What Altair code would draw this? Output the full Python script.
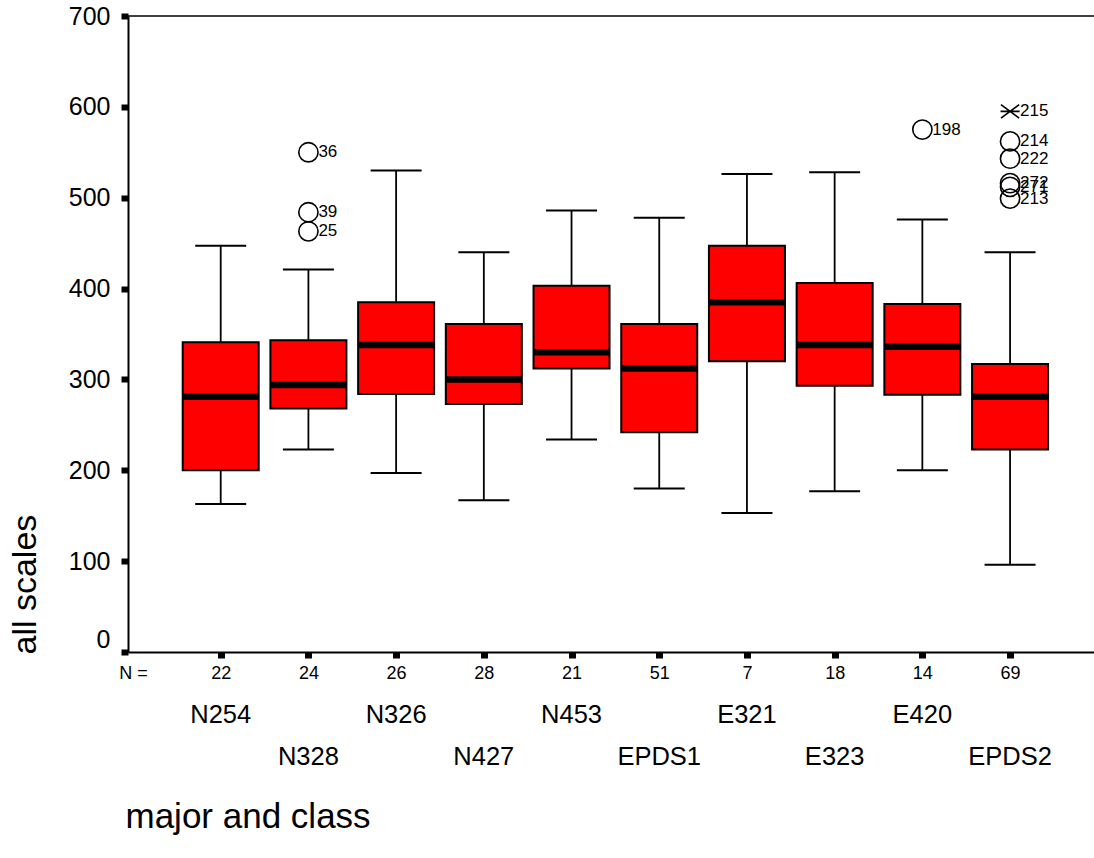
import altair as alt
import pandas as pd

# ---- data ----
categories = ["N254", "N328", "N326", "N427", "N453", "EPDS1", "E321", "E323", "E420", "EPDS2"]
n_counts = [22, 24, 26, 28, 21, 51, 7, 18, 14, 69]
whisker_low = [163, 223, 197, 167, 234, 180, 153, 177, 200, 96]
q1 = [200, 268, 284, 273, 312, 242, 320, 293, 283, 223]
median = [281, 294, 338, 300, 330, 312, 385, 338, 336, 281]
q3 = [341, 343, 385, 361, 403, 361, 447, 406, 383, 317]
whisker_high = [447, 421, 530, 440, 486, 478, 526, 528, 476, 440]

out_group = [2, 2, 2, 9, 10, 10, 10, 10, 10, 10]
out_value = [550, 484, 463, 575, 595, 562, 543, 516, 512, 499]
out_label = ["36", "39", "25", "198", "215", "214", "222", "272", "271", "213"]
out_extreme = [False, False, False, False, True, False, False, False, False, False]

y_ticks = [0, 100, 200, 300, 400, 500, 600, 700]

FONT = "Liberation Sans"
W, H = 966, 636

boxes = pd.DataFrame({
    "idx": list(range(1, len(categories) + 1)),
    "cat": categories,
    "n": n_counts,
    "lo": whisker_low,
    "q1": q1,
    "med": median,
    "q3": q3,
    "hi": whisker_high,
})
boxes["row"] = (boxes["idx"] + 1) % 2  # 0 for first row, 1 for second

outs = pd.DataFrame({"idx": out_group, "v": out_value, "lab": out_label, "ext": out_extreme})

n_label_list = ["N ="] + [str(n) for n in n_counts]
label_expr = "[" + ",".join("'" + s + "'" for s in n_label_list) + "][datum.value]"

xscale = alt.Scale(domain=[0, 10.9], nice=False, zero=False)
yscale = alt.Scale(domain=[0, 700], nice=False)

x_axis = alt.Axis(
    values=list(range(0, len(categories) + 1)),
    labelExpr=label_expr,
    title="major and class",
    titleFont=FONT, titleFontSize=35, titleFontWeight="normal", titleColor="black",
    titleX=-3, titleY=164, titleAlign="left", titleBaseline="middle", titleAnchor="start",
    labelFont=FONT, labelFontSize=18, labelColor="black", labelPadding=6,
    tickSize=6, tickWidth=7, tickColor="black",
    tickOpacity={"condition": {"test": "datum.value == 0", "value": 0}, "value": 1},
    domainColor="black", domainWidth=2, grid=False, labelFlush=False, labelOverlap=False,
)
y_axis = alt.Axis(
    values=y_ticks,
    title="all scales",
    titleFont=FONT, titleFontSize=34, titleFontWeight="normal", titleColor="black",
    titleX=-103, titleY=H + 2, titleAngle=-90, titleAlign="left", titleBaseline="middle",
    labelFont=FONT, labelFontSize=25, labelColor="black", labelPadding=11,
    labelOffset={"condition": {"test": "datum.value == 0", "value": -13}, "value": 0},
    tickSize=7, tickWidth=6, tickColor="black",
    domainColor="black", domainWidth=2, grid=False, labelFlush=False, labelOverlap=False,
)

base = alt.Chart(boxes)

whiskers = base.mark_rule(color="black", strokeWidth=1.8, opacity=1).encode(
    x=alt.X("idx:Q", scale=xscale, axis=x_axis),
    y=alt.Y("lo:Q", scale=yscale, axis=y_axis),
    y2="hi:Q",
)
cap_lo = base.mark_tick(orient="horizontal", size=51, thickness=2, color="black", opacity=1).encode(
    x="idx:Q", y="lo:Q")
cap_hi = base.mark_tick(orient="horizontal", size=51, thickness=2, color="black", opacity=1).encode(
    x="idx:Q", y="hi:Q")
box = base.mark_bar(size=76, color="#FF0000", stroke="black", strokeWidth=2, opacity=1).encode(
    x="idx:Q", y="q1:Q", y2="q3:Q")
med = base.mark_tick(orient="horizontal", size=76, thickness=6.5, color="black", opacity=1).encode(
    x="idx:Q", y="med:Q")

cat_row1 = base.transform_filter("datum.row == 0").mark_text(
    font=FONT, fontSize=25.5, color="black", baseline="middle", align="center"
).encode(x="idx:Q", y=alt.value(699), text="cat:N")
cat_row2 = base.transform_filter("datum.row == 1").mark_text(
    font=FONT, fontSize=25.5, color="black", baseline="middle", align="center"
).encode(x="idx:Q", y=alt.value(741), text="cat:N")

obase = alt.Chart(outs)
circles = obase.transform_filter("!datum.ext").mark_point(
    shape="circle", size=370, filled=False, stroke="black", strokeWidth=1.6, opacity=1
).encode(x="idx:Q", y="v:Q")
stars = obase.transform_filter("datum.ext").mark_point(
    shape="M-1,-0.75L1,0.75M-1,0.75L1,-0.75M-1.05,0L1.05,0", size=330, filled=False,
    stroke="black", strokeWidth=1.6, opacity=1
).encode(x="idx:Q", y="v:Q")
out_text = obase.mark_text(
    font=FONT, fontSize=17, color="black", align="left", baseline="middle", dx=10
).encode(x="idx:Q", y="v:Q", text="lab:N")

top_line = alt.Chart(pd.DataFrame({"a": [0]})).mark_rule(color="black", strokeWidth=1.5).encode(
    x=alt.value(0), x2=alt.value(W), y=alt.value(0))

chart = alt.layer(
    top_line, whiskers, cap_lo, cap_hi, box, med, circles, stars, out_text, cat_row1, cat_row2
).properties(
    width=W, height=H,
    autosize=alt.AutoSizeParams(type="none"),
    padding={"left": 128, "top": 16, "right": 0, "bottom": 206},
    background="white",
).configure_view(stroke=None)

chart.save("out.html", embed_options={"renderer": "svg", "actions": False})
